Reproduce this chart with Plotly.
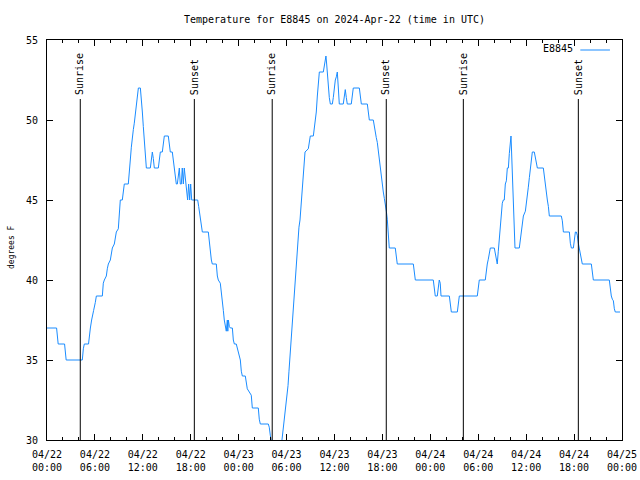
import pandas as pd
import plotly.graph_objects as go

BASE = "2024-04-22 00:00"
TITLE = "Temperature for E8845 on 2024-Apr-22 (time in UTC)"
SERIES_NAME = "E8845"

# hours since 2024-04-22 00:00 UTC
HOURS = [
    0.0, 1.2, 1.4, 2.2, 2.4, 4.42, 4.55, 4.67, 5.2, 5.3, 5.43, 5.59, 5.72, 5.84, 6.05, 6.18,
    6.93, 7.05, 7.18, 7.43, 7.55, 7.68, 7.93, 8.06, 8.18, 8.43, 8.56, 8.68, 8.93, 9.06, 9.18,
    9.43, 9.56, 9.68, 10.18, 10.31, 10.43, 10.56, 10.68, 10.81, 10.93, 11.06, 11.19, 11.31,
    11.44, 11.69, 11.81, 11.94, 12.06, 12.19, 12.31, 12.44, 12.94, 13.06, 13.19, 13.31, 13.44,
    13.94, 14.06, 14.19, 14.44, 14.56, 14.69, 15.19, 15.31, 15.44, 15.69, 15.81, 15.94, 16.07,
    16.19, 16.32, 16.44, 16.57, 16.69, 16.82, 16.94, 17.07, 17.19, 17.36, 17.49, 17.61, 17.74,
    17.87, 17.99, 18.12, 18.24, 18.87, 18.99, 19.12, 19.24, 19.37, 19.45, 20.2, 20.33, 20.45,
    20.58, 20.7, 21.2, 21.33, 21.45, 21.7, 21.83, 21.95, 22.08, 22.2, 22.33, 22.45, 22.58,
    22.64, 22.71, 22.83, 22.96, 23.21, 23.33, 23.46, 23.7, 23.83, 23.96, 24.21, 24.33, 24.46,
    24.83, 24.96, 25.08, 25.33, 25.58, 25.71, 26.46, 26.58, 26.71, 27.71, 27.83, 27.96, 28.4,
    29.2, 29.43, 29.55, 29.68, 29.8, 29.93, 30.05, 30.18, 30.3, 30.43, 30.55, 30.68, 30.8,
    30.93, 31.05, 31.18, 31.3, 31.43, 31.55, 31.68, 31.81, 31.93, 32.06, 32.18, 32.31, 32.72,
    32.85, 32.97, 33.35, 33.47, 33.6, 33.72, 33.85, 33.97, 34.1, 34.6, 34.73, 34.85, 34.93,
    35.02, 35.1, 35.23, 35.35, 35.48, 35.73, 35.85, 35.98, 36.1, 36.23, 36.35, 36.48, 36.6,
    37.1, 37.23, 37.35, 37.48, 37.6, 38.1, 38.23, 38.35, 39.11, 39.23, 39.36, 40.11, 40.24,
    40.36, 40.86, 40.99, 41.11, 41.23, 41.36, 41.49, 41.61, 41.74, 41.86, 41.99, 42.11, 42.24,
    42.36, 42.49, 42.61, 42.74, 42.86, 43.61, 43.74, 43.86, 45.87, 45.99, 46.12, 48.37, 48.49,
    48.62, 48.87, 48.99, 49.12, 49.24, 49.34, 50.38, 50.5, 50.63, 51.38, 51.5, 51.63, 53.88,
    54.01, 54.13, 54.88, 55.01, 55.13, 55.26, 55.38, 55.51, 56.01, 56.13, 56.26, 56.38, 56.51,
    56.63, 56.76, 56.89, 57.01, 57.14, 57.26, 57.39, 57.52, 57.64, 57.77, 57.89, 58.02, 58.1,
    58.14, 58.45, 58.6, 59.14, 59.27, 59.39, 59.52, 59.65, 59.9, 60.02, 60.15, 60.27, 60.4,
    60.52, 60.65, 60.77, 61.02, 61.15, 61.27, 61.4, 62.15, 62.28, 62.4, 62.53, 62.65, 62.78,
    62.9, 64.4, 64.53, 64.66, 65.41, 65.53, 65.66, 65.91, 66.03, 66.16, 66.28, 66.4, 66.53,
    66.66, 66.78, 66.9, 67.03, 68.16, 68.28, 68.41, 70.41, 70.54, 70.66, 70.79, 70.92, 71.04,
    71.16, 71.75,
]

# degrees F
TEMPS = [
    37, 37, 36, 36, 35, 35, 35.7, 36, 36, 36.7, 37, 37.5, 37.75, 38.1, 38.6, 39,
    39, 39.8, 40, 40.25, 40.7, 41, 41.25, 41.7, 42, 42.25, 42.7, 43, 43.2, 44.6, 45,
    45, 45.8, 46, 46, 46.6, 47.5, 48.3, 49, 49.4, 49.8, 50.4, 51, 51.5,
    52, 52, 51.4, 50.5, 49.6, 48.8, 48.1, 47, 47, 47.6, 48, 47.6, 47,
    47, 47.5, 48, 48, 48.6, 49, 49, 48.4, 48, 48, 47.5, 47, 46.4,
    46, 46, 46.6, 47, 46, 46, 47, 46, 47, 46, 45.5, 45, 46,
    45, 46, 45, 45, 45, 44.6, 44.2, 43.9, 43.5, 43, 43, 42.3, 42,
    41.25, 41, 41, 40.25, 40, 39.8, 39.3, 38.6, 38.1, 37.5, 37.1, 36.8, 37.5,
    36.8, 37.5, 37.1, 37, 37, 36.25, 36, 36, 35.75, 35.5, 35, 34.3, 34,
    34, 33.6, 33.2, 33, 32.8, 32, 32, 31.3, 31, 31, 30.8, 30.3, 29,
    29, 30, 30.7, 31.2, 31.6, 32.1, 32.6, 33.4, 34.3, 35.3, 36.3, 37.2, 38.2,
    39.2, 40.1, 41, 41.9, 42.9, 43.3, 43.75, 44.6, 45.5, 46.6, 47.5, 48, 48.2,
    48.8, 49, 49, 49.4, 49.9, 50.5, 51.5, 52.5, 53, 53, 53.5, 53.8, 54,
    53.5, 52.8, 51.8, 51.4, 51, 51, 51.4, 52, 52.5, 52.7, 53, 52, 51,
    51, 51.5, 51.9, 51.4, 51, 51, 51.5, 52, 52, 51.5, 51, 51, 50.6,
    50, 50, 49.6, 49, 48.9, 48.6, 48, 47.5, 47, 46.4, 46, 45.5, 45.1,
    44.8, 44.3, 43.8, 42.9, 42, 42, 41.3, 41, 41, 40.3, 40, 40, 39.6,
    39, 39, 39.7, 40, 39.8, 39, 39, 38.6, 38, 38, 38.6, 39, 39,
    39.6, 40, 40, 40.6, 41, 41.3, 41.7, 42, 42, 41.7, 41.25, 41, 41.8,
    42.5, 43.1, 44.2, 44.8, 45, 45, 46, 46.2, 47, 47, 47.9, 48.5, 49,
    48.5, 43, 42, 42, 42.5, 43.1, 43.8, 44, 44.3, 44.7, 45.3, 45.8, 46.4,
    47, 47.6, 48, 48, 47.6, 47.3, 47, 47, 46.4, 46, 45.5, 45, 44.6,
    44, 44, 43.7, 43, 43, 42.3, 42, 42, 42.5, 43, 43, 42.8, 42.3,
    42, 41.7, 41.3, 41, 41, 40.4, 40, 40, 39.4, 39, 38.8, 38.7, 38.2,
    38, 38,
]

SUN_TIMES = ["2024-04-22 04:10", "2024-04-22 18:27", "2024-04-23 04:12",
             "2024-04-23 18:29", "2024-04-24 04:08", "2024-04-24 18:32"]
SUN_LABELS = ["Sunrise", "Sunset", "Sunrise", "Sunset", "Sunrise", "Sunset"]

X_RANGE = ["2024-04-22 00:00", "2024-04-25 00:00"]
Y_RANGE = [30, 55]
Y_LABEL = "degrees F"

times = pd.Timestamp(BASE) + pd.to_timedelta(HOURS, unit="h")

MONO = "DejaVu Sans Mono"
BLUE = "#1a8cff"

fig = go.Figure()
fig.add_trace(go.Scatter(
    x=times, y=TEMPS, mode="lines", name=SERIES_NAME,
    line=dict(color=BLUE, width=1), showlegend=False,
))

# sunrise / sunset markers
for t, lab in zip(SUN_TIMES, SUN_LABELS):
    fig.add_shape(type="line", xref="x", yref="paper", x0=t, x1=t, y0=0, y1=0.8525,
                  line=dict(color="black", width=1))
    fig.add_annotation(x=t, xref="x", y=0.858, yref="paper", text=lab, textangle=-90,
                       showarrow=False, xanchor="center", yanchor="bottom",
                       font=dict(family=MONO, size=10, color="black"))

# gnuplot-style key: text then line sample
fig.add_annotation(x=0.918, y=0.9775, xref="paper", yref="paper", text=SERIES_NAME,
                   showarrow=False, xanchor="right", yanchor="middle",
                   font=dict(family=MONO, size=10, color="black"))
fig.add_shape(type="line", xref="paper", yref="paper", x0=0.9275, x1=0.979,
              y0=0.975, y1=0.975, line=dict(color=BLUE, width=1))

# y-axis title
fig.add_annotation(x=-0.0626, y=0.4825, xref="paper", yref="paper", text=Y_LABEL,
                   textangle=-90, showarrow=False, xanchor="center", yanchor="middle",
                   font=dict(family=MONO, size=8, color="black"))

fig.update_layout(
    width=640, height=480,
    margin=dict(l=47, r=18, t=40, b=40, autoexpand=False),
    paper_bgcolor="white", plot_bgcolor="white",
    font=dict(family=MONO, size=10, color="black"),
    title=dict(text=TITLE, x=0.5, xref="paper", y=1 - 19 / 480, yanchor="middle",
               font=dict(family=MONO, size=10, color="black"), automargin=False),
    showlegend=False,
)
fig.update_xaxes(
    type="date", range=X_RANGE, dtick=6 * 3600 * 1000, tick0="2024-04-22 00:00",
    tickformat="%m/%d<br>%H:%M", ticks="inside", ticklen=6, tickcolor="black",
    showline=True, linecolor="black", linewidth=1, mirror="allticks",
    showgrid=False, zeroline=False, ticklabelstandoff=5, automargin=False,
    minor=dict(dtick=2 * 3600 * 1000, ticks="inside", ticklen=3, tickcolor="black",
               showgrid=False),
)
fig.update_yaxes(
    range=Y_RANGE, dtick=5, tick0=30, ticks="inside", ticklen=6, tickcolor="black",
    showline=True, linecolor="black", linewidth=1, mirror="allticks",
    showgrid=False, zeroline=False, ticklabelstandoff=6, automargin=False,
)

fig.write_html("out.html", config={"displayModeBar": False},
               post_script="document.body.style.margin='0';")
